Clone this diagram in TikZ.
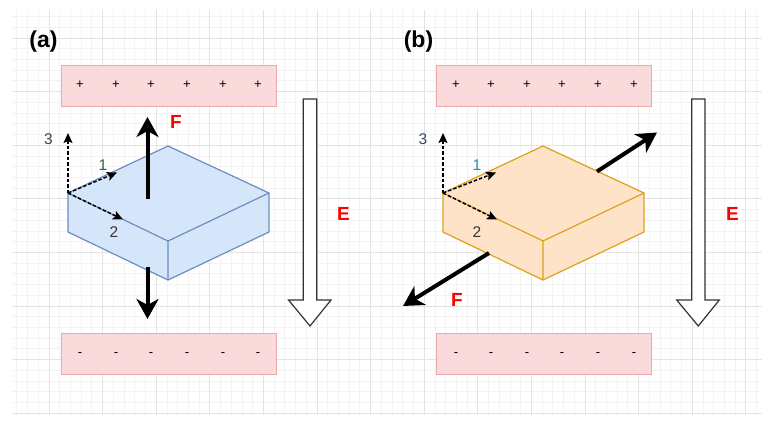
\documentclass[tikz,border=0pt]{standalone}
\usepackage{fontspec}
\setmainfont{Liberation Sans}
\usetikzlibrary{arrows.meta}
\definecolor{gridmaj}{HTML}{E4E4E4}
\definecolor{gridmin}{HTML}{F3F3F3}
\definecolor{platefill}{HTML}{FADADA}
\definecolor{plateline}{HTML}{EBA8A8}
\definecolor{bluefill}{HTML}{D6E6FA}
\definecolor{blueline}{HTML}{6C8EBF}
\definecolor{orfill}{HTML}{FFE3C8}
\definecolor{orline}{HTML}{DBA21A}
\definecolor{fred}{HTML}{FF0000}
\definecolor{labgreen}{HTML}{2F6A3A}
\definecolor{labteal}{HTML}{2C8CB0}
\definecolor{labgray}{HTML}{44443C}
\definecolor{labblue}{HTML}{3A4A60}
\tikzset{
  plate/.style={fill=platefill, draw=plateline, line width=1pt},
  sign/.style={font=\fontsize{13}{15}\selectfont, inner sep=0pt},
  panellabel/.style={font=\fontsize{23}{27}\selectfont\bfseries, inner sep=0pt},
  flabel/.style={font=\fontsize{19}{22}\selectfont\bfseries, text=fred, inner sep=0pt},
  axlabel/.style={font=\fontsize{15.5}{18}\selectfont, inner sep=0pt},
  axis/.style={dashed, dash pattern=on 3.5pt off 2pt, line width=1.5pt, -{Stealth[length=10pt,width=9pt,inset=2pt]}},
  force/.style={line width=4pt, -{Stealth[length=20pt,width=22pt,inset=6pt]}},
  earrow/.style={fill=white, draw=black!80, line width=1.2pt, line join=miter},
  boxedge/.style={line width=1.2pt, line join=round}
}
\begin{document}
\begin{tikzpicture}[x=1pt,y=-1pt]
\useasboundingbox (0,0) rectangle (773,432);
\fill[white] (0,0) rectangle (773,432);
% grid
\foreach \i in {-3,...,66} {
  \pgfmathsetmacro\xx{49+\i*10.72}
  \draw[gridmin, line width=0.8pt] (\xx,10) -- (\xx,415);
}
\foreach \j in {-2,...,35} {
  \pgfmathsetmacro\yy{38+\j*10.72}
  \draw[gridmin, line width=0.8pt] (12,\yy) -- (762,\yy);
}
\foreach \i in {0,...,13} {
  \pgfmathsetmacro\xx{49+\i*53.6}
  \draw[gridmaj, line width=1pt] (\xx,10) -- (\xx,415);
}
\foreach \j in {0,...,7} {
  \pgfmathsetmacro\yy{38+\j*53.6}
  \draw[gridmaj, line width=1pt] (12,\yy) -- (762,\yy);
}

% ================= panel (a)
\node[panellabel] (la) at (43.5,41.5) {(a)};
\draw[plate] (61.5,65) rectangle (276.5,106);
\draw[plate] (61.5,333) rectangle (276.5,374);
\foreach \x/\n in {80/1,116/2,151/3,187/4,223/5,258/6} {
  \node[sign] (pa\n) at (\x,85) {+};
  \node[sign] (ma\n) at (\x,355) {-};
}
% cuboid (a)
\coordinate (aT) at (168,146);
\coordinate (aL) at (68,193);
\coordinate (aR) at (269,193);
\coordinate (aF) at (168,241);
\coordinate (aFB) at (168,280);
\coordinate (aLB) at (68,232);
\coordinate (aRB) at (269,232);
\draw[boxedge, fill=bluefill, draw=blueline] (aT) -- (aR) -- (aRB) -- (aFB) -- (aLB) -- (aL) -- cycle;
\draw[boxedge, draw=blueline] (aL) -- (aF) -- (aR) (aF) -- (aFB);
% axes (a)
\coordinate (a3) at (68,133);
\coordinate (a1) at (117,172.5);
\coordinate (a2) at (123,219.5);
\draw[axis] (aL) -- (a3);
\draw[axis] (aL) -- (a1);
\draw[axis] (aL) -- (a2);
\node[axlabel, text=labgray] (a3l) at (48.5,139) {3};
\node[axlabel, text=labgreen] (a1l) at (103,165) {1};
\node[axlabel, text=labgray!80!black] (a2l) at (114,232) {2};
% forces (a)
\coordinate (aFu0) at (147.5,199);
\coordinate (aFu1) at (147.5,117);
\coordinate (aFd0) at (147.5,267);
\coordinate (aFd1) at (147.5,319);
\draw[force] (aFu0) -- (aFu1);
\draw[force] (aFd0) -- (aFd1);
\node[flabel] (aFl) at (176,121.5) {F};
% E arrow (a)
\draw[earrow] (303.3,99) -- (316.7,99) -- (316.7,300) -- (331,300) -- (310,326) -- (288.5,300) -- (303.3,300) -- cycle;
\node[flabel] (aE) at (343.5,213.5) {E};

% ================= panel (b)
\node[panellabel] (lb) at (418.5,41.5) {(b)};
\draw[plate] (436.7,65) rectangle (651.7,106);
\draw[plate] (436.7,333) rectangle (651.7,374);
\foreach \x/\n in {456/1,491/2,527/3,562/4,598/5,634/6} {
  \node[sign] (pb\n) at (\x,85) {+};
  \node[sign] (mb\n) at (\x,355) {-};
}
% cuboid (b)
\coordinate (bT) at (543,146);
\coordinate (bL) at (443,193);
\coordinate (bR) at (644,193);
\coordinate (bF) at (543,241);
\coordinate (bFB) at (543,280);
\coordinate (bLB) at (443,232);
\coordinate (bRB) at (644,232);
\draw[boxedge, fill=orfill, draw=orline] (bT) -- (bR) -- (bRB) -- (bFB) -- (bLB) -- (bL) -- cycle;
\draw[boxedge, draw=orline] (bL) -- (bF) -- (bR) (bF) -- (bFB);
% axes (b)
\coordinate (b3) at (443,133);
\coordinate (b1) at (496,172.5);
\coordinate (b2) at (497,219.5);
\draw[axis] (bL) -- (b3);
\draw[axis] (bL) -- (b1);
\draw[axis] (bL) -- (b2);
\node[axlabel, text=labblue] (b3l) at (423,139) {3};
\node[axlabel, text=labteal] (b1l) at (477,165) {1};
\node[axlabel, text=labgray!80!black] (b2l) at (477,232) {2};
% forces (b)
\coordinate (bFu0) at (597,171.5);
\coordinate (bFu1) at (657,132.5);
\coordinate (bFd0) at (489,253);
\coordinate (bFd1) at (403,306);
\draw[force] (bFu0) -- (bFu1);
\draw[force] (bFd0) -- (bFd1);
\node[flabel] (bFl) at (457,299.5) {F};
% E arrow (b)
\draw[earrow] (691.7,99) -- (705,99) -- (705,300) -- (719.3,300) -- (698.3,326) -- (676.7,300) -- (691.7,300) -- cycle;
\node[flabel] (bE) at (732.5,213.5) {E};
\end{tikzpicture}
\end{document}
